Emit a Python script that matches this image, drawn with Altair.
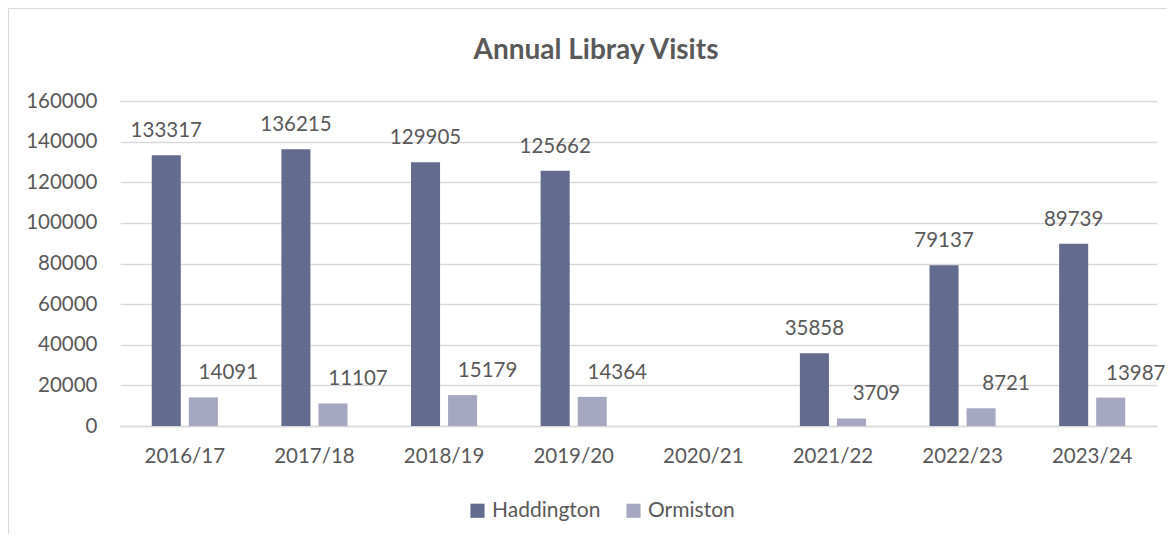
import altair as alt
import pandas as pd

years = ["2016/17", "2017/18", "2018/19", "2019/20", "2020/21", "2021/22", "2022/23", "2023/24"]
haddington = [133317, 136215, 129905, 125662, None, 35858, 79137, 89739]
ormiston = [14091, 11107, 15179, 14364, None, 3709, 8721, 13987]
series = ["Haddington", "Ormiston"]
colors = ["#636b8f", "#a5a8c0"]
title_text = "Annual Libray Visits"

rows = []
for y, h, o in zip(years, haddington, ormiston):
    if h is not None:
        rows.append({"year": y, "series": "Haddington", "visits": h})
    if o is not None:
        rows.append({"year": y, "series": "Ormiston", "visits": o})
df = pd.DataFrame(rows)

FONT = "Lato"
GRAY = "#595959"
W, H = 1037, 325
FS = 20.5

x_enc = alt.X("year:N", title=None, sort=years,
              scale=alt.Scale(domain=years, paddingInner=0.49, paddingOuter=0.245),
              axis=alt.Axis(labelAngle=0, labelFontSize=FS, labelColor=GRAY, labelFont=FONT,
                            domainColor="#d9d9d9", domainWidth=1.5, ticks=False, labelPadding=20))
xo_enc = alt.XOffset("series:N", sort=series,
                     scale=alt.Scale(domain=series, paddingInner=0.216, paddingOuter=0))
y_enc = alt.Y("visits:Q", title=None,
              scale=alt.Scale(domain=[0, 160000]),
              axis=alt.Axis(values=list(range(0, 160001, 20000)), labelFontSize=FS, labelColor=GRAY,
                            labelFont=FONT, domain=False, ticks=False, labelPadding=23,
                            gridColor="#d9d9d9", gridWidth=1.5, format="d"))

base = alt.Chart(df).encode(x=x_enc, xOffset=xo_enc, y=y_enc)

bars = base.mark_bar().encode(
    color=alt.Color("series:N", sort=series,
                    scale=alt.Scale(domain=series, range=colors),
                    legend=alt.Legend(title=None, orient="none", direction="horizontal",
                                      legendX=347, legendY=399, symbolType="square",
                                      symbolSize=200, symbolStrokeWidth=0, labelFontSize=21,
                                      labelColor=GRAY, labelFont=FONT, columnPadding=22,
                                      labelOffset=4))
)

lab_h = base.transform_filter(alt.datum.series == "Haddington").mark_text(
    fontSize=FS, font=FONT, color=GRAY, baseline="alphabetic", dy=-18
).encode(text=alt.Text("visits:Q", format="d"))

lab_o = base.transform_filter(alt.datum.series == "Ormiston").mark_text(
    fontSize=FS, font=FONT, color=GRAY, baseline="alphabetic", dy=-18, dx=25
).encode(text=alt.Text("visits:Q", format="d"))

one = pd.DataFrame({"t": [title_text]})
title = alt.Chart(one).mark_text(
    fontSize=28, font=FONT, fontWeight="bold", color=GRAY, baseline="alphabetic", align="center"
).encode(text="t:N", x=alt.value(476), y=alt.value(-42))

border = alt.Chart(one).mark_rect(filled=False, stroke="#d9d9d9", strokeWidth=1).encode(
    x=alt.value(-111.5), x2=alt.value(1200), y=alt.value(-92.5), y2=alt.value(700)
)

chart = alt.layer(border, bars, lab_h, lab_o, title).properties(
    width=W, height=H,
    autosize=alt.AutoSizeParams(type="none"),
    padding={"left": 112, "top": 93, "right": 10, "bottom": 108},
    background="white",
).configure_view(stroke=None)

chart.save("out.html", embed_options={"renderer": "svg", "actions": False})
